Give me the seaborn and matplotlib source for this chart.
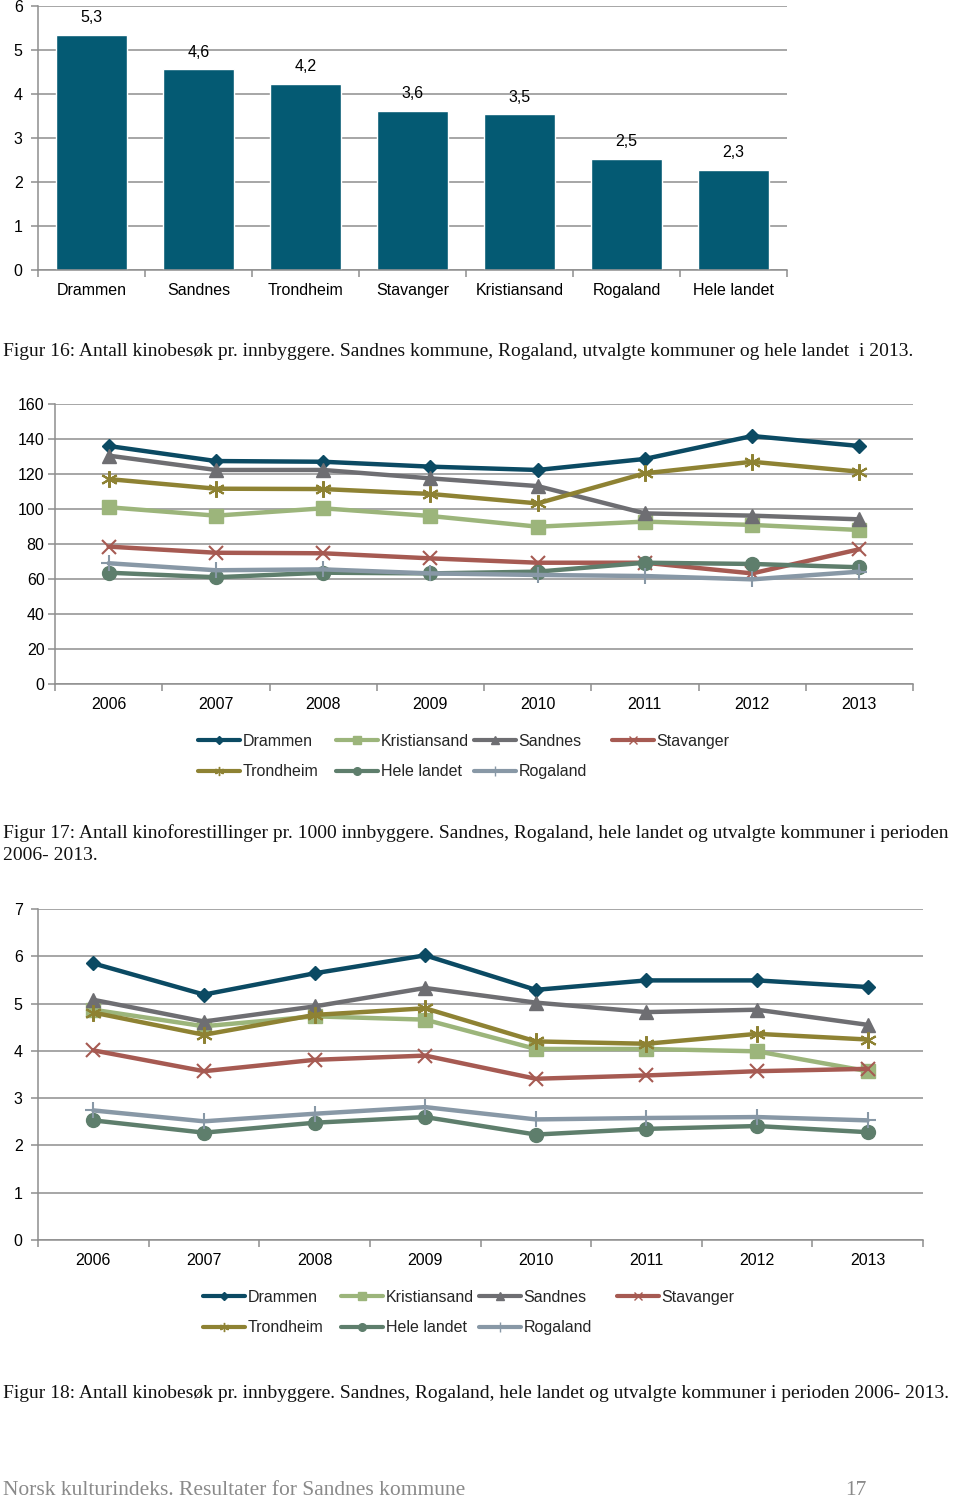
import matplotlib
matplotlib.use("Agg")
import matplotlib.pyplot as plt
import seaborn as sns
import numpy as np
from matplotlib.lines import Line2D

sns.set_theme(style="white")
plt.rcParams['font.family'] = ['Liberation Sans', 'DejaVu Sans']

# ---------------- data ----------------
bar_categories = ["Drammen", "Sandnes", "Trondheim", "Stavanger", "Kristiansand", "Rogaland", "Hele landet"]
bar_values = [5.34, 4.56, 4.23, 3.61, 3.54, 2.52, 2.27]

years = ["2006", "2007", "2008", "2009", "2010", "2011", "2012", "2013"]
series_names = ["Drammen", "Kristiansand", "Sandnes", "Stavanger", "Trondheim", "Hele landet", "Rogaland"]

# Figur 17: kinoforestillinger pr. 1000 innbyggere
shows_drammen = [136.0, 127.4, 127.0, 124.2, 122.3, 128.6, 141.7, 136.0]
shows_kristiansand = [101.0, 96.2, 100.4, 96.0, 89.9, 92.8, 90.9, 88.0]
shows_sandnes = [130.5, 122.3, 122.3, 117.5, 113.1, 97.5, 96.2, 94.1]
shows_stavanger = [78.5, 75.0, 74.7, 71.8, 69.3, 69.3, 63.2, 77.0]
shows_trondheim = [117.1, 111.6, 111.4, 108.6, 103.2, 120.4, 127.0, 121.3]
shows_hele_landet = [63.6, 61.0, 63.6, 63.2, 64.2, 69.3, 68.6, 66.7]
shows_rogaland = [69.0, 65.0, 65.5, 63.2, 62.3, 61.7, 59.8, 64.2]

# Figur 18: kinobesøk pr. innbygger
visits_drammen = [5.85, 5.19, 5.64, 6.02, 5.29, 5.49, 5.49, 5.35]
visits_kristiansand = [4.87, 4.52, 4.73, 4.66, 4.04, 4.04, 3.99, 3.57]
visits_sandnes = [5.08, 4.62, 4.94, 5.33, 5.02, 4.82, 4.87, 4.55]
visits_stavanger = [4.01, 3.57, 3.81, 3.90, 3.41, 3.48, 3.57, 3.62]
visits_trondheim = [4.81, 4.34, 4.76, 4.90, 4.20, 4.15, 4.36, 4.24]
visits_hele_landet = [2.53, 2.27, 2.48, 2.60, 2.23, 2.35, 2.41, 2.28]
visits_rogaland = [2.74, 2.51, 2.67, 2.81, 2.55, 2.58, 2.60, 2.53]

# ---------------- styles ----------------
W, H = 960, 1502
BAR_COLOR = "#045A73"
GRID = "#8E8E8E"
colors = {
    "Drammen": "#0B4A63",
    "Kristiansand": "#9CB57B",
    "Sandnes": "#6E6E72",
    "Stavanger": "#A65A52",
    "Trondheim": "#8E8233",
    "Hele landet": "#5E7E6C",
    "Rogaland": "#8898A6",
}
ASTER = (6, 2, 0)
markers = {
    "Drammen": ("D", 7.5, 1.0),
    "Kristiansand": ("s", 10, 1.0),
    "Sandnes": ("^", 10, 1.0),
    "Stavanger": ("x", 10, 1.5),
    "Trondheim": (ASTER, 12, 1.5),
    "Hele landet": ("o", 10, 1.0),
    "Rogaland": ("+", 12, 1.5),
}
FS = 11.5


def ax_rect(left_px, right_px, top_px, bottom_px):
    return [left_px / W, 1 - bottom_px / H, (right_px - left_px) / W, (bottom_px - top_px) / H]


def style_axes(ax, n, ymax, ystep, ylabelpad):
    ax.set_xlim(-0.5, n - 0.5)
    ax.set_ylim(0, ymax)
    ax.set_yticks(np.arange(0, ymax + 1e-9, ystep))
    ax.yaxis.grid(True, color=GRID, lw=1.1)
    ax.xaxis.grid(False)
    ax.set_axisbelow(True)
    for s in ["top", "right"]:
        ax.spines[s].set_visible(False)
    for s in ["left", "bottom"]:
        ax.spines[s].set_visible(True)
        ax.spines[s].set_color(GRID)
        ax.spines[s].set_linewidth(1.1)
    ax.set_xticks(np.arange(-0.5, n), minor=True)
    ax.tick_params(axis="x", which="major", bottom=True, length=0, pad=9.5, labelsize=FS, labelcolor="black")
    ax.tick_params(axis="x", which="minor", bottom=True, length=5, width=1.1, color=GRID, direction="out")
    ax.tick_params(axis="y", which="major", left=True, length=5, width=1.1, color=GRID,
                   direction="out", pad=ylabelpad, labelsize=FS, labelcolor="black")
    ax.set_xlabel("")
    ax.set_ylabel("")


fig = plt.figure(figsize=(W / 100, H / 100), dpi=100)

# ---------------- Chart 1 (bars) ----------------
ax1 = fig.add_axes(ax_rect(38, 787, 6, 270))
sns.barplot(x=bar_categories, y=bar_values, color=BAR_COLOR, saturation=1, width=0.66, ax=ax1)
style_axes(ax1, len(bar_categories), 6, 1, 6)
ax1.set_xticks(range(len(bar_categories)))
ax1.set_xticklabels(bar_categories)
ax1.bar_label(ax1.containers[0], labels=[f"{v:.1f}".replace(".", ",") for v in bar_values],
              padding=7, fontsize=FS, color="black")


# ---------------- line charts ----------------
def line_chart(rect, data, ymax, ystep, ylabelpad):
    ax = fig.add_axes(rect)
    x_idx = np.arange(len(years))
    for name in series_names:
        c = colors[name]
        m, ms, mew = markers[name]
        sns.lineplot(x=x_idx, y=data[name], color=c, lw=3.2, marker=m, markersize=ms,
                     markeredgecolor=c, markerfacecolor=c, markeredgewidth=mew, ax=ax,
                     errorbar=None, sort=False)
    style_axes(ax, len(years), ymax, ystep, ylabelpad)
    ax.set_xticks(x_idx)
    ax.set_xticklabels(years)
    return ax


def add_legend(x_starts, y_top):
    cols = [["Drammen", "Trondheim"], ["Kristiansand", "Hele landet"], ["Sandnes", "Rogaland"], ["Stavanger"]]
    for col, x in zip(cols, x_starts):
        handles = []
        for name in col:
            c = colors[name]
            m, ms, mew = markers[name]
            handles.append(Line2D([], [], color=c, lw=3, marker=m, markersize=ms * 0.55,
                                  markeredgecolor=c, markerfacecolor=c, markeredgewidth=1))
        fig.legend(handles=handles, labels=col, loc="upper left",
                   bbox_to_anchor=(x / W, 1 - y_top / H), frameon=False, borderpad=0,
                   borderaxespad=0, handlelength=2.6, handletextpad=0.2, labelspacing=0.95,
                   fontsize=FS)


shows = {
    "Drammen": shows_drammen, "Kristiansand": shows_kristiansand, "Sandnes": shows_sandnes,
    "Stavanger": shows_stavanger, "Trondheim": shows_trondheim, "Hele landet": shows_hele_landet,
    "Rogaland": shows_rogaland,
}
visits = {
    "Drammen": visits_drammen, "Kristiansand": visits_kristiansand, "Sandnes": visits_sandnes,
    "Stavanger": visits_stavanger, "Trondheim": visits_trondheim, "Hele landet": visits_hele_landet,
    "Rogaland": visits_rogaland,
}

ax2 = line_chart(ax_rect(55, 913, 404, 684), shows, 160, 20, 2.5)
add_legend([198, 336, 474, 612], 734)

ax3 = line_chart(ax_rect(38, 923, 909, 1240), visits, 7, 1, 6)
add_legend([203, 341, 479, 617], 1290)

# ---------------- captions ----------------
SERIF = ["Liberation Serif", "DejaVu Serif"]
CAP_FS = 14.0
fig.text(3 / W, 1 - 351 / H,
         "Figur 16: Antall kinobesøk pr. innbyggere. Sandnes kommune, Rogaland, utvalgte kommuner og hele landet  i 2013.",
         family=SERIF, fontsize=CAP_FS, va="center", ha="left", color="#111111")
fig.text(3 / W, 1 - 833 / H,
         "Figur 17: Antall kinoforestillinger pr. 1000 innbyggere. Sandnes, Rogaland, hele landet og utvalgte kommuner i perioden",
         family=SERIF, fontsize=CAP_FS, va="center", ha="left", color="#111111")
fig.text(3 / W, 1 - 855 / H, "2006- 2013.",
         family=SERIF, fontsize=CAP_FS, va="center", ha="left", color="#111111")
fig.text(3 / W, 1 - 1393 / H,
         "Figur 18: Antall kinobesøk pr. innbyggere. Sandnes, Rogaland, hele landet og utvalgte kommuner i perioden 2006- 2013.",
         family=SERIF, fontsize=CAP_FS, va="center", ha="left", color="#111111")
fig.text(3 / W, 1 - 1495 / H, "Norsk kulturindeks. Resultater for Sandnes kommune",
         family=SERIF, fontsize=15.5, va="baseline", ha="left", color="#8A8A8A")
fig.text(856 / W, 1 - 1495 / H, "17", family=SERIF, fontsize=15.5, va="baseline", ha="center", color="#8A8A8A")

fig.savefig("out.png", dpi=100)
